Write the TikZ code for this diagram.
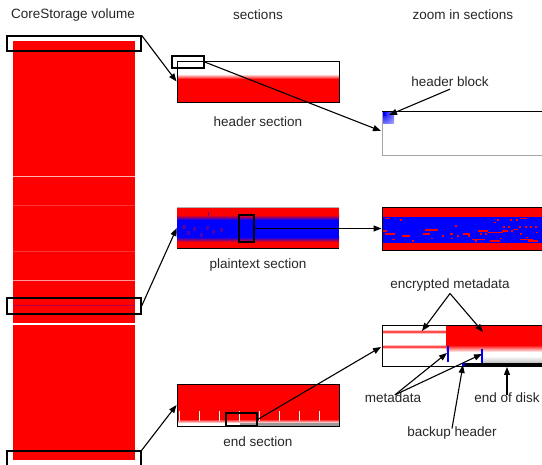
\documentclass[tikz,border=0pt]{standalone}
\usepackage{fontspec}
\setmainfont{Liberation Sans}
\usetikzlibrary{arrows.meta}
\definecolor{txt}{HTML}{262626}
\tikzset{
  lbl/.style={text=txt, font=\fontsize{13.5}{16}\selectfont, inner sep=0pt},
  selbox/.style={draw=black, line width=1.3pt, inner sep=0pt, fill=none},
  secbox/.style={draw=black, line width=0.9pt, inner sep=0pt},
  arr/.style={draw=black, line width=1.1pt, -{Triangle[length=8pt,width=6pt]}},
}
\begin{document}
\begin{tikzpicture}[x=1pt,y=-1pt]
\useasboundingbox (0,0) rectangle (542,465);
% titles
\node[lbl] (t1) at (73,15) {CoreStorage volume};
\node[lbl] (t2) at (258,15) {sections};
\node[lbl] (t3) at (463,15) {zoom in sections};

% ---------- volume ----------
\fill[red] (13,41) rectangle (135,460);
\draw[white!70!red, line width=0.5pt] (13,176) -- (135,176);
\draw[white!20!red, line width=0.7pt] (13,205) -- (135,205);
\draw[white!20!red, line width=0.7pt] (13,251) -- (135,251);
\draw[white!60!red, line width=0.5pt] (13,280) -- (135,280);
\draw[red!70!blue, line width=0.4pt] (13,305) -- (135,305);
\draw[white, line width=1.2pt] (13,324) -- (135,324);
\node[selbox, minimum width=134pt, minimum height=15pt] (vtop) at (74,43.5) {};
\node[selbox, minimum width=134pt, minimum height=16pt] (vmid) at (74,306) {};
\node[selbox, minimum width=134pt, minimum height=17pt] (vbot) at (74,459.5) {};

% ---------- header section ----------
\fill[red] (177,78) rectangle (339,102);
\shade[top color=white, bottom color=red] (177,74) rectangle (339,79);
\node[secbox, minimum width=162pt, minimum height=41pt] (hsec) at (258,81.5) {};
\node[selbox, minimum width=32pt, minimum height=12pt] (hsel) at (188,62) {};
\node[lbl] (hlab) at (258,122) {header section};

% zoomed header
\begin{scope}
  \clip (382,112) rectangle (394,124);
  \shade[inner color=blue, outer color=white] (383,113) circle (22);
\end{scope}
\fill[blue] (382,112) rectangle (386,116);
\draw[black!35, line width=0.8pt] (382,112) -- (382,155) -- (542,155);
\draw[black, line width=1pt] (382,112) -- (542,112);
\coordinate (hz) at (381,131);
\coordinate (hb) at (389,115);
\node[lbl] (hblab) at (450,82) {header block};

% ---------- plaintext section ----------
\fill[red] (177,207) rectangle (339,249);
\fill[blue] (177,220) rectangle (339,237);
\shade[top color=red, bottom color=blue] (177,215) rectangle (339,220);
\shade[top color=blue, bottom color=red] (177,237) rectangle (339,242);
\foreach \a/\b/\c in {182/186/225,187/190/231,193/196/227,200/203/233,206/209/226,212/215/230,220/223/228,208/209/212}
  \fill[blue!70!red] (\a,\c) rectangle (\b,\c+4);
\draw[black!30, line width=0.5pt] (177,207) -- (339,207);
\draw[black, line width=1pt] (177,249) -- (339,249);
\node[inner sep=0pt, minimum width=162pt, minimum height=42pt] (psec) at (258,228) {};
\node[selbox, minimum width=15pt, minimum height=27pt] (psel) at (246.5,228.5) {};
\node[lbl] (plab) at (258,265) {plaintext section};

% zoomed plaintext
\fill[red] (382,207) rectangle (542,250);
\fill[blue] (382,217) rectangle (542,243);
\foreach \a/\b/\c in {385/390/218.3,400/402/220,383/387/230.7,385/395/234,392/395/239.3,402/410/235.7,412/414/240.7,425/438/230,423/430/234,431/433/238.3,442/444/235.7,450/453/234,451/453/238.3,455/457/225.7,457/459/236,463/470/234,468/470/236,472/485/239.3,475/477/241.2,478/488/230.7,480/482/234,485/487/234,488/503/232.3,490/500/240.7,494/496/222.3,497/499/220,500/502/238.3,502/508/230.7,503/505/226.7,508/510/226.7,510/512/220,511/513/230.7,513/518/229.3,516/518/220,520/527/218.3,519/521/226.7,520/522/234,525/527/226.7,526/528/237.3,530/532/226.7,520/533/239.3,535/537/226.7,528/538/240.7,536/538/232.3}
  \fill[red] (\a,\c-0.7) rectangle (\b,\c+0.9);
\node[secbox, minimum width=164pt, minimum height=43pt] (pzoom) at (464,228.5) {};

% ---------- end section ----------
\fill[red] (177,384) rectangle (339,421);
\fill[black!40] (240,423) rectangle (339,426);
\shade[top color=red, bottom color=white] (177,419) rectangle (339,423);
\foreach \x in {179,199,...,319}
  \draw[white, line width=0.8pt] (\x,411) -- (\x,421);
\node[secbox, minimum width=162pt, minimum height=42pt] (esec) at (258,405) {};
\node[selbox, minimum width=31pt, minimum height=13pt] (esel) at (241.5,419.5) {};
\node[lbl] (elab) at (258,442) {end section};

% zoomed end
\draw[red!25, line width=4pt] (382,332) -- (446,332);
\draw[red!70, line width=1.2pt] (382,332) -- (446,332);
\draw[red!25, line width=4pt] (382,347) -- (446,347);
\draw[red!70, line width=1.2pt] (382,347) -- (446,347);
\fill[red] (446,325) rectangle (542,346);
\shade[top color=red, bottom color=white] (446,345) rectangle (542,352);
\shade[top color=white, bottom color=black!25] (482,356) rectangle (542,363);
\draw[blue, line width=1.2pt] (448,346) -- (448,362);
\draw[blue, line width=1.2pt] (482,349) -- (482,363);
\fill[black] (463,363) rectangle (544,367);
\fill[blue] (462,363) rectangle (465,366);
\node[secbox, minimum width=164pt, minimum height=41pt] (ezoom) at (464,345.5) {};
\coordinate (ez) at (381,347);
\coordinate (enc1) at (422,331);
\coordinate (enc2) at (483,332);
\coordinate (md1) at (447,353);
\coordinate (md2) at (482,354);
\coordinate (bh) at (463,365);
\coordinate (eod) at (507,367);
\node[lbl] (enclab) at (450,285) {encrypted metadata};
\node[lbl] (mdlab) at (393,398) {metadata};
\node[lbl] (eodlab) at (507,398) {end of disk};
\node[lbl] (bhlab) at (452,433) {backup header};

% ---------- connectors ----------
\draw[arr] (vtop.north east) -- (hsec.west);
\draw[arr] (hsel.east) -- (hz);
\draw[arr] (hblab.south) ++(0,2) -- (hb);
\draw[arr] (vmid.east) -- (psec.west);
\draw[arr] (psel.east) -- (pzoom.west);
\draw[arr] (vbot.north east) -- (esec.west);
\draw[arr] (esel.east) -- (ez);
\draw[arr] ([yshift=-2pt]enclab.south) -- (enc1);
\draw[arr] ([yshift=-2pt]enclab.south) -- (enc2);
\draw[arr] ([xshift=2pt,yshift=-2pt]mdlab.north) -- (md1);
\draw[arr] ([xshift=2pt,yshift=-2pt]mdlab.north) -- (md2);
\draw[arr] ([yshift=-2pt]eodlab.north) -- (eod);
\draw[arr] ([yshift=-2pt]bhlab.north) -- (bh);
\end{tikzpicture}
\end{document}
